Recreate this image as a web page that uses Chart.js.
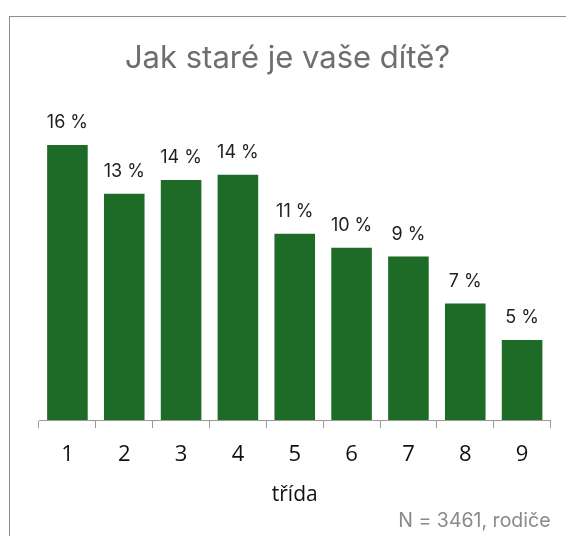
<!DOCTYPE html>
<html>
<head>
<meta charset="utf-8">
<script src="https://cdn.jsdelivr.net/npm/chart.js@4.4.1/dist/chart.umd.min.js"></script>
<style>
  html, body { margin: 0; padding: 0; background: #fff; }
  #wrap { position: relative; width: 566px; height: 536px; overflow: hidden; }
  #frame {
    position: absolute; left: 9px; top: 16px; right: -2px; bottom: -2px;
    border-top: 1px solid #8f8f8f; border-left: 1px solid #8f8f8f;
  }
  #chart { position: absolute; left: 0; top: 0; }
</style>
</head>
<body>
<div id="wrap">
  <div id="frame"></div>
  <canvas id="chart" width="566" height="536"></canvas>
</div>
<script>
// ==================== 数据 ====================

const TITLE = "Jak staré je vaše dítě?";
const X_TITLE = "třída";
const NOTE = "N = 3461, rodiče";

const grades = ["1", "2", "3", "4", "5", "6", "7", "8", "9"];
const shares = [15.8, 13.0, 13.8, 14.1, 10.7, 9.9, 9.4, 6.7, 4.6];

const BAR_COLOR = "#1d6b27";
const TITLE_FONT = "Inter, 'Noto Sans', sans-serif";
const AXIS_FONT = "'Open Sans', 'Noto Sans', sans-serif";

// ==================== 柱顶标签 ====================

const valueLabels = {
  id: "valueLabels",
  afterDatasetsDraw(chart) {
    const { ctx } = chart;
    const meta = chart.getDatasetMeta(0);
    ctx.save();
    ctx.font = `18px ${TITLE_FONT}`;
    ctx.fillStyle = "#1f1f1f";
    ctx.textAlign = "center";
    ctx.textBaseline = "middle";
    meta.data.forEach((bar, i) => {
      ctx.fillText(`${Math.round(shares[i])} %`, bar.x, bar.y - 22);
    });
    ctx.restore();
  },
};

// ==================== 图表 ====================

new Chart(document.getElementById("chart"), {
  type: "bar",
  data: {
    labels: grades,
    datasets: [{
      data: shares,
      backgroundColor: BAR_COLOR,
      borderWidth: 0,
      barPercentage: 0.714,
      categoryPercentage: 1,
    }],
  },
  options: {
    responsive: false,
    devicePixelRatio: 1,
    animation: false,
    // 左侧留白由隐形 y 轴占位，使标题在边框内居中
    layout: { padding: { left: 24.5, right: 15.5, top: 40.2, bottom: 5.25 } },
    plugins: {
      legend: { display: false },
      tooltip: { enabled: false },
      title: {
        display: true,
        text: TITLE,
        color: "#6e6e6e",
        font: { family: TITLE_FONT, size: 31, weight: "normal", lineHeight: 1.2 },
        padding: { top: 0, bottom: 12 },
      },
      subtitle: {
        display: true,
        position: "bottom",
        align: "end",
        text: NOTE,
        color: "#8a8a8a",
        font: { family: TITLE_FONT, size: 19.5, weight: "normal", lineHeight: 1 },
        padding: { top: 0, bottom: 0 },
      },
    },
    scales: {
      x: {
        grid: {
          display: true,
          offset: true,
          drawOnChartArea: false,
          drawTicks: true,
          tickLength: 8,
          color: "#9a9a9a",
        },
        border: { display: true, color: "#9a9a9a", width: 1 },
        ticks: {
          color: "#111",
          padding: 13.8,
          font: { family: AXIS_FONT, size: 22 },
        },
        title: {
          display: true,
          text: X_TITLE,
          color: "#111",
          font: { family: AXIS_FONT, size: 21 },
          padding: { top: 0.3, bottom: 3.75 },
        },
      },
      y: {
        display: true,
        min: 0,
        max: 19,
        grid: { display: false },
        border: { display: false },
        ticks: { display: false },
        afterFit: (scale) => { scale.width = 14.5; },
      },
    },
  },
  plugins: [valueLabels],
});
</script>
</body>
</html>
